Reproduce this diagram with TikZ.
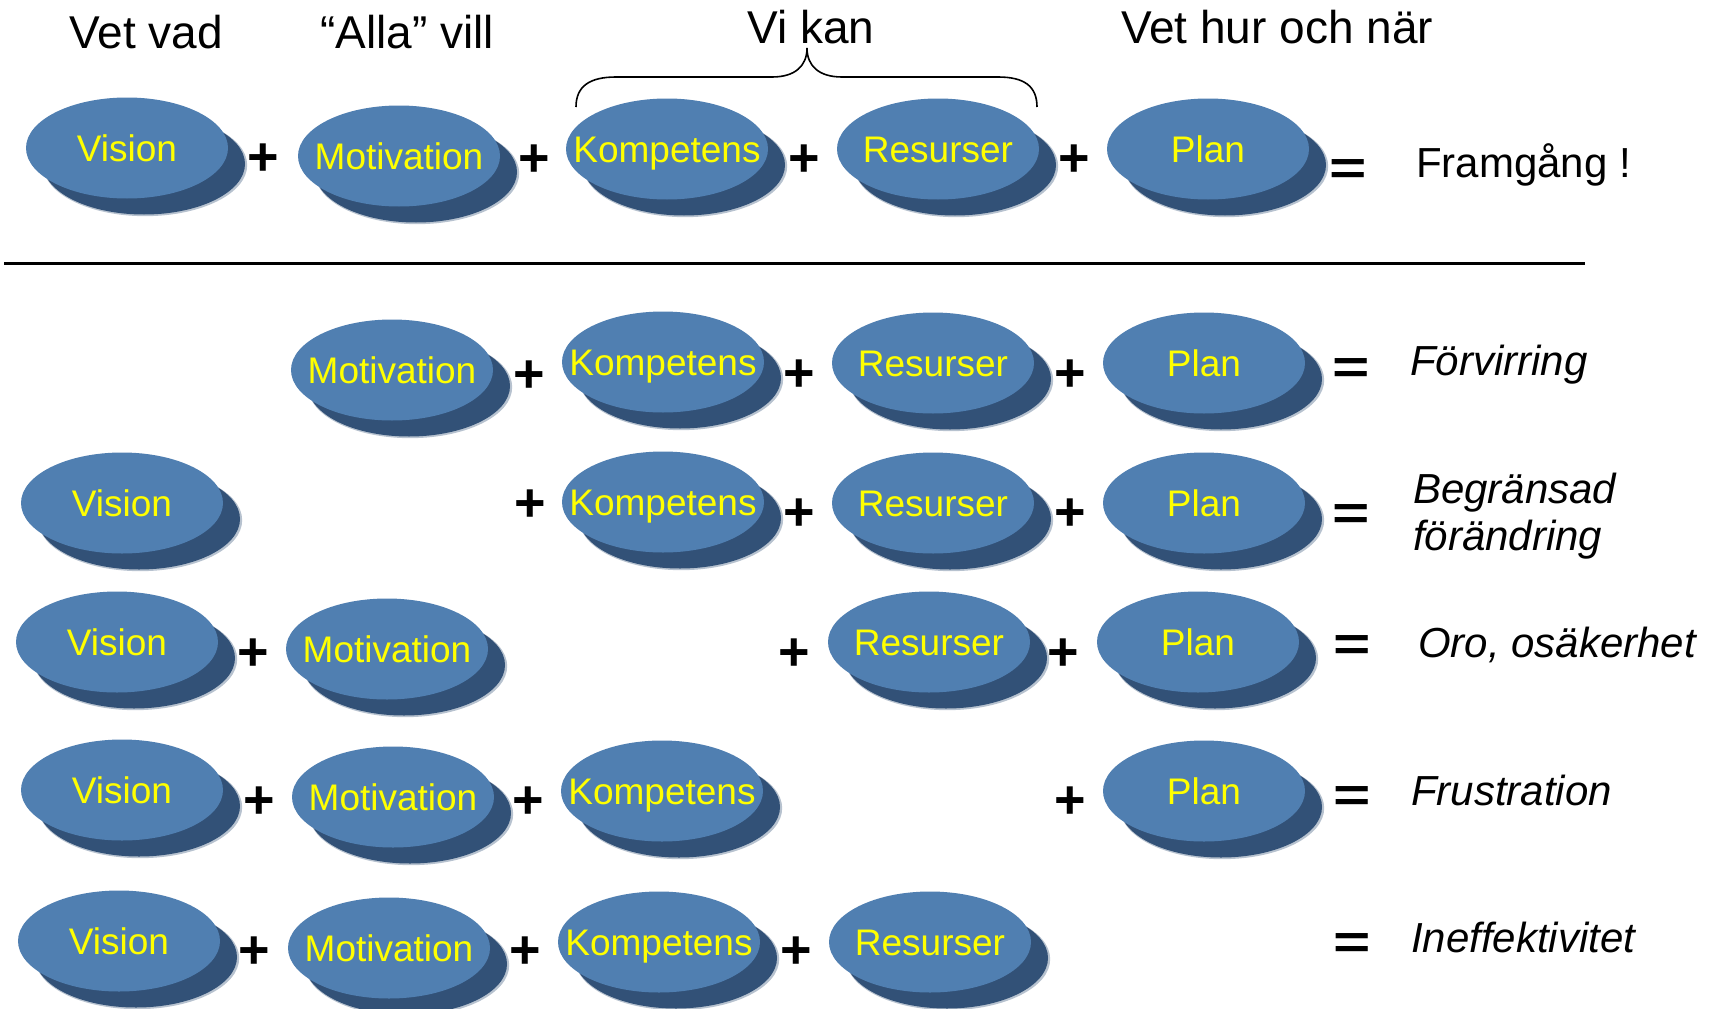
\documentclass[tikz,border=0pt]{standalone}
\usepackage{fontspec}
\setmainfont{Liberation Sans}
\usetikzlibrary{shapes.geometric,shadows}
\definecolor{mainc}{RGB}{80,127,177}
\definecolor{shadowc}{RGB}{50,81,119}
\definecolor{ytext}{RGB}{255,255,0}
\tikzset{
  blob/.style={ellipse, minimum width=202pt, minimum height=101pt, inner sep=0pt,
    fill=mainc, text=ytext, font=\fontsize{37}{40}\selectfont,
    text height=27pt, text depth=0pt,
    drop shadow={shadow xshift=18pt, shadow yshift=-17pt, shadow scale=1.01, fill=shadowc, opacity=0.35},
    drop shadow={shadow xshift=17pt, shadow yshift=-16pt, fill=shadowc, opacity=1}},
  plussign/.style={anchor=base, inner sep=0pt, font=\bfseries\fontsize{54}{54}\selectfont},
  eqsign/.style={anchor=base, inner sep=0pt, font=\bfseries\fontsize{64}{64}\selectfont},
  toplabel/.style={anchor=base, inner sep=0pt, font=\fontsize{46}{50}\selectfont},
  result/.style={anchor=base west, inner sep=0pt, font=\fontsize{42}{47}\selectfont},
  iresult/.style={anchor=base west, inner sep=0pt, font=\itshape\fontsize{42}{47}\selectfont, align=left},
}
\newcommand{\blob}[4]{\node[blob] (#1) at (#2,#3) {\makebox[0pt][c]{#4}};}
\newcommand{\plusat}[3]{\node[plussign] (#1) at (#2,#3+18) {+};}
\newcommand{\eqat}[3]{\node[eqsign] (#1) at (#2,#3+17) {\scalebox{1}[0.75]{=}};}
\begin{document}
\begin{tikzpicture}[x=1pt,y=-1pt]
\useasboundingbox[fill=white] (0,0) rectangle (1719,1009);

% top labels
\node[toplabel] (lvet) at (146,48) {Vet vad};
\node[toplabel] (lalla) at (407,48) {“Alla” vill};
\node[toplabel] (lkan) at (811,43) {Vi kan};
\node[toplabel] (lhur) at (1277,43) {Vet hur och när};

% brace
\draw[line width=1.6pt] (576,107) .. controls (576,86) and (590,77) .. (616,77)
  -- (772,77) .. controls (795,77) and (807,66) .. (807,48)
  .. controls (807,66) and (819,77) .. (842,77)
  -- (998,77) .. controls (1024,77) and (1037,86) .. (1037,107);

% row 0
\blob{a1}{127}{148}{Vision}
\blob{a2}{399}{156}{Motivation}
\blob{a3}{667}{149}{Kompetens}
\blob{a4}{938}{149}{Resurser}
\blob{a5}{1208}{149}{Plan}
\plusat{ap1}{263}{157}
\plusat{ap2}{534}{158}
\plusat{ap3}{804}{158}
\plusat{ap4}{1074}{158}
\eqat{aeq}{1348}{167}
\node[result] (ares) at (1416,177) {Framgång !};

% separator
\coordinate (sepL) at (4,263);
\coordinate (sepR) at (1585,263);
\draw[line width=3pt] (sepL) -- (sepR);

% row 1
\blob{b2}{392}{370}{Motivation}
\blob{b3}{663}{362}{Kompetens}
\blob{b4}{933}{363}{Resurser}
\blob{b5}{1204}{363}{Plan}
\plusat{bp2}{529}{374}
\plusat{bp3}{799}{373}
\plusat{bp4}{1070}{373}
\eqat{beq}{1351}{366}
\node[iresult] (bres) at (1410,375) {Förvirring};

% row 2
\blob{c1}{122}{503}{Vision}
\blob{c3}{663}{502}{Kompetens}
\blob{c4}{933}{503}{Resurser}
\blob{c5}{1204}{503}{Plan}
\plusat{cp2}{530}{503}
\plusat{cp3}{799}{512}
\plusat{cp4}{1070}{512}
\eqat{ceq}{1351}{512}
\node[iresult] (cres) at (1413,550) {Begränsad\\förändring};

% row 3
\blob{d1}{117}{642}{Vision}
\blob{d2}{387}{649}{Motivation}
\blob{d4}{929}{642}{Resurser}
\blob{d5}{1198}{642}{Plan}
\plusat{dp1}{253}{652}
\plusat{dp3}{794}{652}
\plusat{dp4}{1063}{652}
\eqat{deq}{1352}{643}
\node[iresult] (dres) at (1418,657) {Oro, osäkerhet};

% row 4
\blob{e1}{122}{790}{Vision}
\blob{e2}{393}{797}{Motivation}
\blob{e3}{662}{791}{Kompetens}
\blob{e5}{1204}{791}{Plan}
\plusat{ep1}{259}{800}
\plusat{ep2}{528}{800}
\plusat{ep4}{1070}{800}
\eqat{eeq}{1352}{794}
\node[iresult] (eres) at (1411,805) {Frustration};

% row 5
\blob{f1}{119}{941}{Vision}
\blob{f2}{389}{948}{Motivation}
\blob{f3}{659}{942}{Kompetens}
\blob{f4}{930}{942}{Resurser}
\plusat{fp1}{254}{950}
\plusat{fp2}{525}{950}
\plusat{fp3}{796}{950}
\eqat{feq}{1352}{941}
\node[iresult] (fres) at (1411,952) {Ineffektivitet};
\end{tikzpicture}
\end{document}
